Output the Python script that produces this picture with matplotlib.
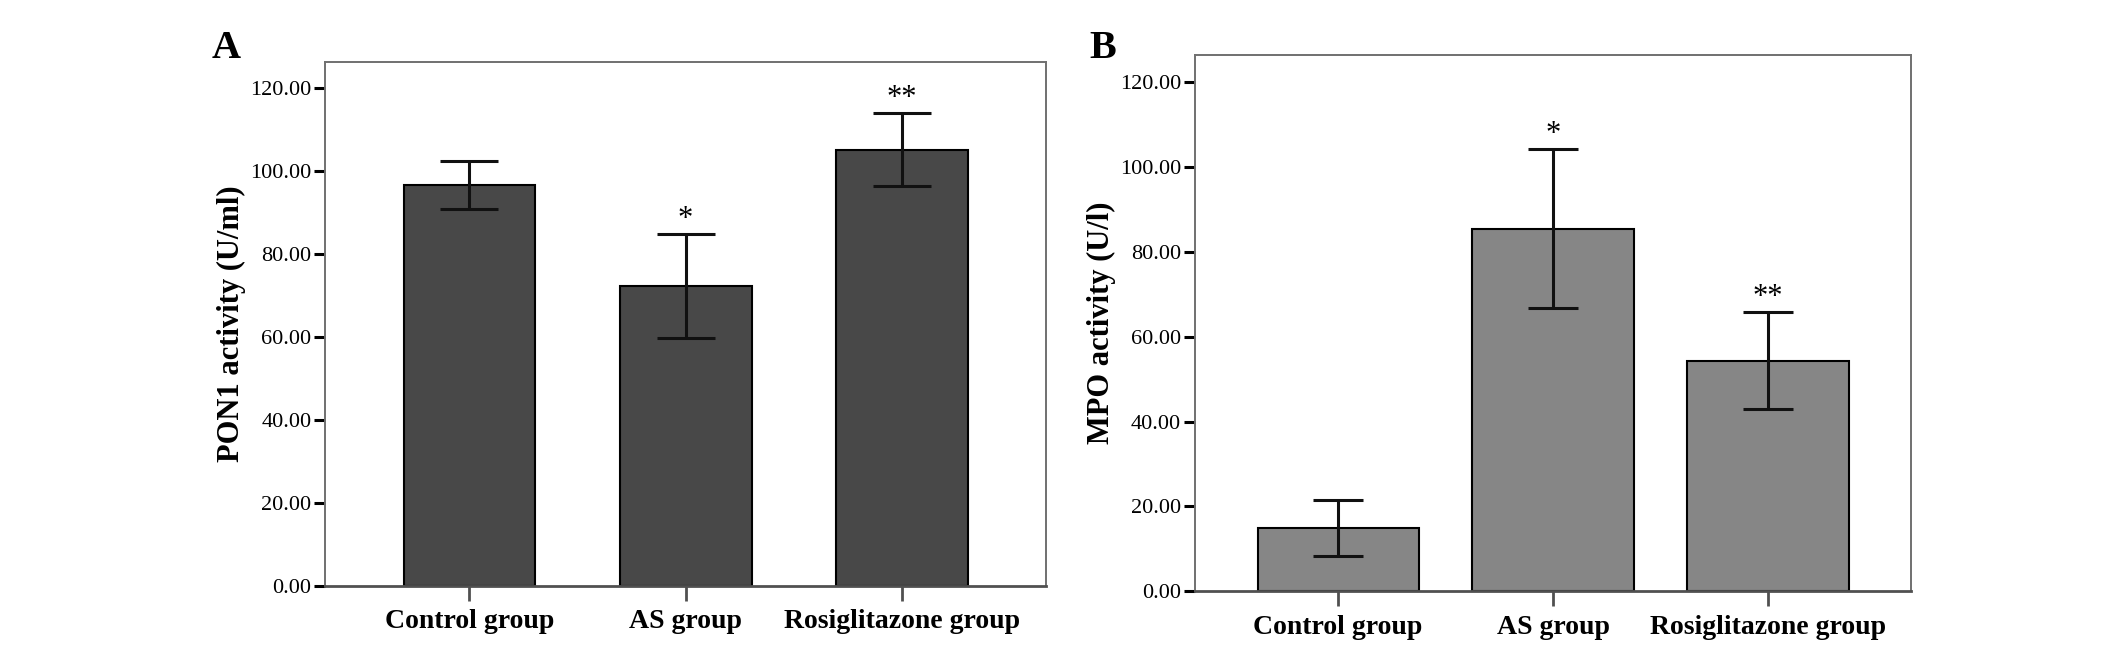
import matplotlib
matplotlib.use("Agg")
import matplotlib.pyplot as plt

plt.rcParams['font.family'] = ['Liberation Serif', 'DejaVu Serif']

groups = ["Control group", "AS group", "Rosiglitazone group"]
yticks = [0, 20, 40, 60, 80, 100, 120]

# panel A: PON1 activity
pon1_mean = [96.8, 72.3, 105.2]
pon1_err = [5.8, 12.6, 8.8]
pon1_marks = ["", "*", "**"]

# panel B: MPO activity
mpo_mean = [15.0, 85.5, 54.4]
mpo_err = [6.6, 18.8, 11.5]
mpo_marks = ["", "*", "**"]


def panel(ax, means, errs, marks, color, width, cap, ylabel):
    x = list(range(len(groups)))
    ax.bar(x, means, width=width, color=color, edgecolor="black", linewidth=1.5, zorder=2)
    ax.errorbar(x, means, yerr=errs, fmt="none", ecolor="#111111",
                elinewidth=2.2, capsize=cap, capthick=2.2, zorder=3)
    for xi, m, e, s in zip(x, means, errs, marks):
        if s:
            ax.annotate(s, (xi, m + e), xytext=(0, 0), textcoords="offset points",
                        ha="center", va="bottom", fontsize=22)
    ax.set_xlim(-0.667, 2.667)
    ax.set_ylim(0, 126.4)
    ax.set_xticks(x)
    ax.set_xticklabels(groups, fontsize=20, fontweight="bold")
    ax.set_yticks(yticks)
    ax.set_yticklabels(["%.2f" % v for v in yticks], fontsize=16)
    ax.set_ylabel(ylabel, fontsize=22, fontweight="bold", labelpad=3)
    for sp in ax.spines.values():
        sp.set_color("#707070")
        sp.set_linewidth(1.4)
    ax.spines["bottom"].set_color("#505050")
    ax.spines["bottom"].set_linewidth(2)
    ax.tick_params(axis="y", length=8, width=2.2, color="black", pad=2)
    ax.tick_params(axis="x", length=11, width=2, color="#505050", pad=6)


fig = plt.figure(figsize=(21.26, 6.65), dpi=100)
axA = fig.add_axes([0.153, 0.119, 0.339, 0.788])
axB = fig.add_axes([0.562, 0.111, 0.337, 0.806])

panel(axA, pon1_mean, pon1_err, pon1_marks, "#484848", 0.61, 21, "PON1 activity (U/ml)")
panel(axB, mpo_mean, mpo_err, mpo_marks, "#868686", 0.75, 18, "MPO activity (U/l)")

fig.text(212 / 2126, 1 - 58 / 665, "A", fontsize=29, fontweight="bold", ha="left", va="baseline")
fig.text(1089 / 2126, 1 - 58 / 665, "B", fontsize=29, fontweight="bold", ha="left", va="baseline")

fig.savefig("out.png", dpi=100)
